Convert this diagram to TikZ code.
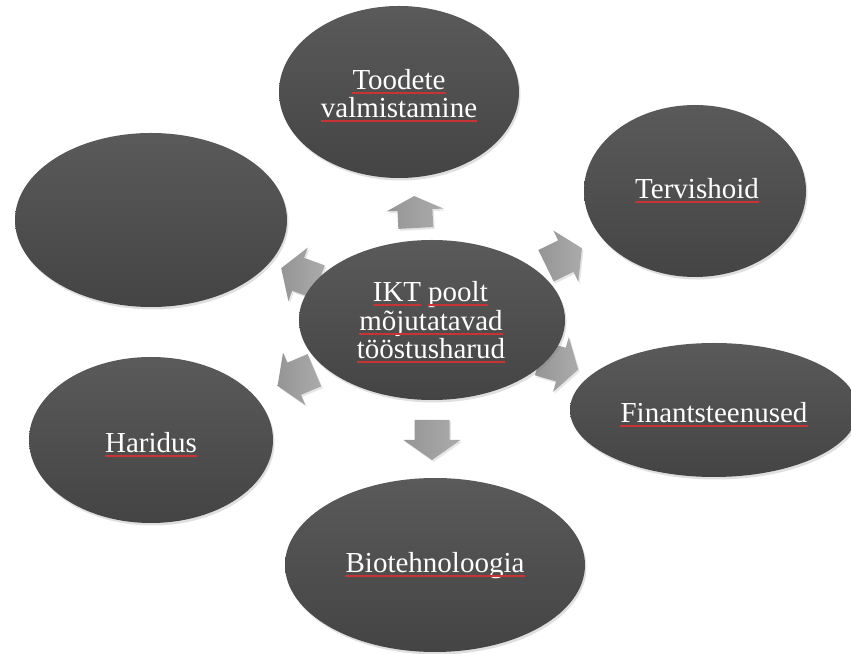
\documentclass[tikz,border=0pt]{standalone}
\usepackage{fontspec}
\setmainfont{Liberation Serif}
\usetikzlibrary{shapes.geometric,shadows}
\definecolor{spellred}{HTML}{C83434}
\definecolor{ellTop}{HTML}{5A5A5A}
\definecolor{ellBot}{HTML}{444444}
\definecolor{arrLight}{HTML}{ABABAB}
\definecolor{arrDark}{HTML}{959595}
\tikzset{
  bubble/.style={ellipse, inner sep=0pt, draw=none,
    top color=ellTop, bottom color=ellBot,
    drop shadow={shadow xshift=1.5pt, shadow yshift=-2.5pt, opacity=0.25}},
  linetext/.style={inner sep=0pt, text=white, anchor=base,
    font=\fontsize{29}{28.5}\selectfont},
  spell/.style={draw=spellred, line width=1.1pt},
  blockarrow/.style={draw=none, left color=arrDark, right color=arrLight,
    drop shadow={shadow xshift=1.5pt, shadow yshift=-2pt, opacity=0.2}}
}
% #1 x, #2 y, #3 angle, #4 half length, #5 head length
\newcommand\blockarr[5]{%
  \path[blockarrow, shift={(#1,#2)}, rotate=#3]
    (-#4,-17.5) -- ({#4-#5},-17.5) -- ({#4-#5},-28.5) -- (#4,0)
    -- ({#4-#5},28.5) -- ({#4-#5},17.5) -- (-#4,17.5) -- cycle;}
% underline a text node #1
\newcommand\spline[1]{%
  \draw[spell] ([yshift=-3pt]#1.base west) -- ([yshift=-3pt]#1.base east);}
\begin{document}
\begin{tikzpicture}[x=1pt,y=1pt]
\useasboundingbox (0,0) rectangle (851,653);
% arrows (behind the ellipses)
\blockarr{415}{441}{93}{16}{14}
\blockarr{564}{396}{26}{20}{18}
\blockarr{559}{289}{-16}{20}{18}
\blockarr{432}{213}{-90}{20}{20}
\blockarr{296}{275}{203}{20}{18}
\blockarr{300}{378}{160}{20}{18}
% ellipses
\node[bubble, minimum width=266pt, minimum height=160pt] (c) at (432,333) {};
\node[bubble, minimum width=240pt, minimum height=172pt] (top) at (399,561) {};
\node[bubble, minimum width=222pt, minimum height=172pt] (ter) at (695,462) {};
\node[bubble, minimum width=288pt, minimum height=134pt] (fin) at (714,243) {};
\node[bubble, minimum width=300pt, minimum height=174pt] (bio) at (435,88) {};
\node[bubble, minimum width=244pt, minimum height=166pt] (har) at (151,213) {};
\node[bubble, minimum width=272pt, minimum height=174pt] (emp) at (151,433) {};
% texts
\node[linetext] (c1a) at (397,351) {IKT};
\node[linetext] (c1b) at (458,351) {poolt};
\node[linetext] (c2) at (431,322) {mõjutatavad};
\node[linetext] (c3) at (431,294) {tööstusharud};
\node[linetext] (t1) at (399,563) {Toodete};
\node[linetext] (t2) at (399,535) {valmistamine};
\node[linetext] (te) at (697,454) {Tervishoid};
\node[linetext] (fi) at (714,230) {Finantsteenused};
\node[linetext] (bi) at (435,80) {Biotehnoloogia};
\node[linetext] (ha) at (151,200) {Haridus};
% spell-check underlines
\spline{c1a}\spline{c1b}\spline{c2}\spline{c3}
\spline{t1}\spline{t2}\spline{te}\spline{fi}\spline{bi}\spline{ha}
\end{tikzpicture}
\end{document}
